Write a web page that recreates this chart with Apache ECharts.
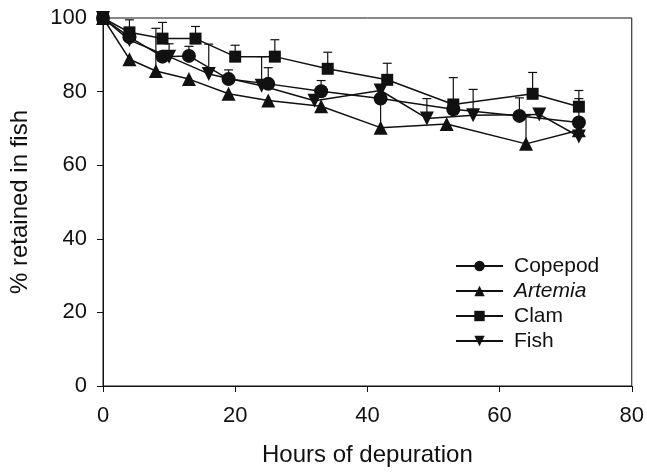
<!DOCTYPE html>
<html>
<head>
<meta charset="utf-8">
<script src="https://cdn.jsdelivr.net/npm/echarts@6/dist/echarts.min.js"></script>
<style>html,body{margin:0;padding:0;background:#fff}#c{width:647px;height:472px}</style>
</head>
<body>
<div id="c"></div>
<script>
// Data
const xTicks = [0, 20, 40, 60, 80];
const yTicks = [0, 20, 40, 60, 80, 100];

const copepodX = [0, 4, 9, 13, 19, 25, 33, 42, 53, 63, 72];
const copepodY = [100, 94.8, 89.5, 89.7, 83.4, 82.1, 80.1, 78.1, 75.2, 73.4, 71.6];
const copepodErr = [null, null, null, 2.6, 2.5, 4.4, 2.9, null, null, 4.9, 6.5];

const artemiaX = [0, 4, 8, 13, 19, 25, 33, 42, 52, 64, 72];
const artemiaY = [100, 88.8, 85.6, 83.4, 79.4, 77.6, 76.0, 70.2, 71.2, 65.8, 69.5];
const artemiaErr = [null, null, 11.6, null, null, null, null, 11, null, 7.7, null];

const clamX = [0, 4, 9, 14, 20, 26, 34, 43, 53, 65, 72];
const clamY = [100, 96.1, 94.4, 94.4, 89.5, 89.5, 86.2, 83.2, 76.5, 79.4, 75.9];
const clamErr = [null, 3.4, 4.4, 3.3, 3.1, 4.6, 4.5, 4.5, 7.3, 5.8, 4.4];

const fishX = [0, 4, 10, 16, 24, 32, 42, 49, 56, 66, 72];
const fishY = [100, 94, 89.5, 84.8, 81.6, 77.5, 80.3, 72.7, 73.6, 73.8, 67.8];
const fishErr = [null, null, 3.5, 8.1, 7.9, null, null, 5.4, 7.0, null, null];

const INK = '#111';
const FONT = 'Liberation Sans, Arial, Helvetica, sans-serif';
const FS = 22;
const NFS = 24;

function pts(xs, ys) { return xs.map((x, i) => [x, ys[i]]); }
function errs(xs, ys, es) {
  const out = [];
  xs.forEach((x, i) => { if (es[i] != null) out.push([x, ys[i], ys[i] + es[i]]); });
  return out;
}
const allErr = [].concat(
  errs(copepodX, copepodY, copepodErr),
  errs(artemiaX, artemiaY, artemiaErr),
  errs(clamX, clamY, clamErr),
  errs(fishX, fishY, fishErr)
);

const downTri = 'path://M0,0 L10,0 L5,9 Z';

function lineSeries(name, data, symbol, size) {
  return {
    name, type: 'line', data, symbol, symbolSize: size, showSymbol: true,
    lineStyle: { color: INK, width: 1.5 },
    itemStyle: { color: INK, borderWidth: 0 },
    emphasis: { disabled: true }, z: 3, animation: false
  };
}

const chart = echarts.init(document.getElementById('c'), null, { renderer: 'canvas' });
chart.setOption({
  animation: false,
  backgroundColor: '#fff',
  grid: { left: 101, right: 15, top: 18, bottom: 80, show: true, borderColor: INK, borderWidth: 1, backgroundColor: 'transparent' },
  xAxis: {
    type: 'value', min: xTicks[0], max: xTicks[xTicks.length - 1], interval: 20,
    name: 'Hours of depuration', nameLocation: 'middle', nameGap: 57,
    nameTextStyle: { color: INK, fontSize: NFS, fontFamily: FONT },
    axisLine: { show: true, lineStyle: { color: INK, width: 1 } },
    axisTick: { show: true, inside: false, length: 6, lineStyle: { color: INK } },
    axisLabel: { color: INK, fontSize: FS, fontFamily: FONT, margin: 19 },
    splitLine: { show: false }
  },
  yAxis: {
    type: 'value', min: yTicks[0], max: yTicks[yTicks.length - 1], interval: 20,
    name: '% retained in fish', nameLocation: 'middle', nameGap: 71, nameRotate: 90,
    nameTextStyle: { color: INK, fontSize: NFS, fontFamily: FONT },
    axisLine: { show: true, lineStyle: { color: INK, width: 1 } },
    axisTick: { show: true, inside: false, length: 6, lineStyle: { color: INK } },
    axisLabel: { color: INK, fontSize: FS, fontFamily: FONT, margin: 16 },
    splitLine: { show: false }
  },
  legend: {
    left: 455, top: 255, orient: 'vertical', padding: 0, itemWidth: 47, itemHeight: 13, itemGap: 3,
    textStyle: { color: INK, fontSize: 21, lineHeight: 22, fontFamily: FONT, padding: [0, 0, 0, 6], rich: { i: { fontStyle: 'italic', fontSize: 21, lineHeight: 22, fontFamily: FONT, color: INK } } },
    formatter: n => n === 'Artemia' ? '{i|Artemia}' : n,
    data: ['Copepod', 'Artemia', 'Clam', 'Fish']
  },
  series: [
    {
      type: 'custom', name: 'err', data: allErr, z: 1, silent: true,
      encode: { x: 0, y: [1, 2] },
      renderItem: (params, api) => {
        const x = api.value(0);
        const p0 = api.coord([x, api.value(1)]);
        const p1 = api.coord([x, api.value(2)]);
        const w = 4.5;
        return {
          type: 'group',
          children: [
            { type: 'line', shape: { x1: p0[0], y1: p0[1], x2: p1[0], y2: p1[1] }, style: { stroke: INK, lineWidth: 1.2 } },
            { type: 'line', shape: { x1: p1[0] - w, y1: p1[1], x2: p1[0] + w, y2: p1[1] }, style: { stroke: INK, lineWidth: 1.2 } }
          ]
        };
      }
    },
    lineSeries('Copepod', pts(copepodX, copepodY), 'circle', 14),
    lineSeries('Artemia', pts(artemiaX, artemiaY), 'triangle', 14),
    lineSeries('Clam', pts(clamX, clamY), 'rect', 12),
    lineSeries('Fish', pts(fishX, fishY), downTri, 14)
  ]
});
</script>
</body>
</html>
